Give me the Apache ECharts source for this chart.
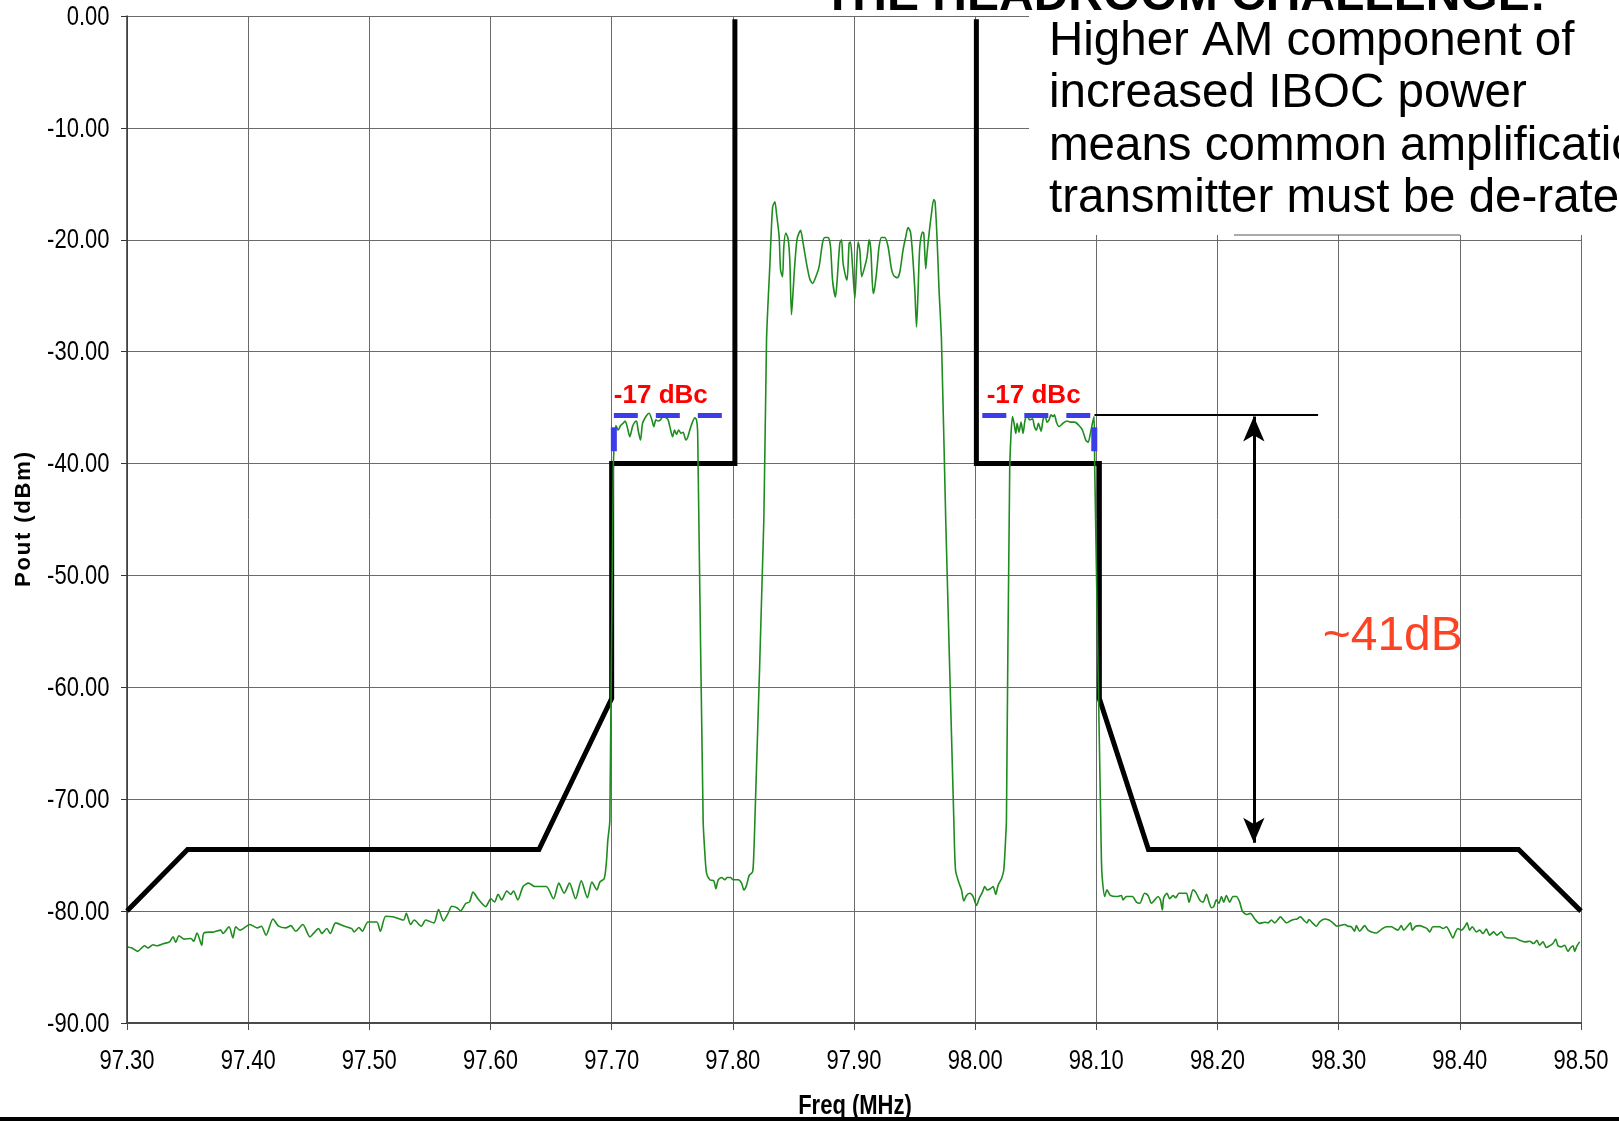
<!DOCTYPE html>
<html>
<head>
<meta charset="utf-8">
<title>FM + IBOC spectrum vs. mask</title>
<script src="https://cdn.jsdelivr.net/npm/echarts@6/dist/echarts.min.js"></script>
<style>
  html, body { margin: 0; padding: 0; background: #fff; }
  #chart { width: 1619px; height: 1121px; }
</style>
</head>
<body>
<div id="chart"></div>
<script>
// ---- axes ----
const X_MIN = 97.3, X_MAX = 98.5, X_STEP = 0.1;
const Y_MIN = -90, Y_MAX = 0, Y_STEP = 10;
const xTickLabels = ['97.30','97.40','97.50','97.60','97.70','97.80','97.90','98.00','98.10','98.20','98.30','98.40','98.50'];
const yTickLabels = ['-90.00','-80.00','-70.00','-60.00','-50.00','-40.00','-30.00','-20.00','-10.00','0.00'];
const xAxisTitle = 'Freq (MHz)';
const yAxisTitle = 'Pout (dBm)';

// ---- emission mask (MHz, dBm) ----
const maskLow = [[97.30,-80],[97.35,-74.5],[97.64,-74.5],[97.70,-61],[97.70,-40],[97.8017,-40],[97.8017,-0.3]];
const maskHigh = [[98.001,-0.3],[98.001,-40],[98.1025,-40],[98.1025,-61],[98.143,-74.5],[98.4485,-74.5],[98.50,-80]];

// ---- measured spectrum (MHz, dBm) ----
const floorLow = [
  [97.3007,-83.2],[97.3041,-83.3],[97.3087,-83.6],[97.3145,-83.1],[97.3173,-83.3],[97.3214,-83.0],[97.3248,-83.1],
  [97.3305,-82.9],[97.3351,-82.75],[97.3380,-82.3],[97.3402,-82.8],[97.3429,-82.2],[97.3470,-82.5],[97.3528,-82.45],
  [97.3550,-82.7],[97.3578,-81.95],[97.3617,-83.05],[97.3635,-81.95],[97.3718,-81.86],[97.3773,-81.7],[97.3792,-82.0],
  [97.3842,-81.4],[97.3874,-82.4],[97.3897,-81.4],[97.3932,-81.7],[97.4015,-81.2],[97.4073,-81.5],[97.4109,-81.35],
  [97.4147,-82.15],[97.4205,-80.7],[97.4251,-81.35],[97.4309,-81.5],[97.4353,-81.3],[97.4392,-81.8],[97.4451,-81.2],
  [97.4510,-82.3],[97.4543,-81.95],[97.4581,-81.56],[97.4609,-82.0],[97.4649,-81.56],[97.4678,-82.0],[97.4722,-81.05],
  [97.4795,-81.35],[97.4855,-81.56],[97.4875,-81.86],[97.4914,-81.46],[97.4943,-81.8],[97.4988,-80.97],[97.5061,-80.97],
  [97.5091,-81.8],[97.5135,-80.46],[97.5194,-80.5],[97.5282,-80.8],[97.5305,-80.2],[97.5341,-81.2],[97.5370,-80.8],
  [97.5429,-81.35],[97.5465,-80.8],[97.5533,-81.05],[97.5571,-79.85],[97.5612,-80.87],[97.5650,-80.2],[97.5680,-79.56],
  [97.5723,-79.7],[97.5753,-79.97],[97.5797,-79.3],[97.5827,-79.18],[97.5856,-78.3],[97.5901,-78.97],[97.5960,-79.6],
  [97.6003,-78.9],[97.6033,-79.18],[97.6063,-78.5],[97.6092,-79.0],[97.6135,-78.2],[97.6166,-78.5],[97.6190,-78.2],
  [97.6225,-79.0],[97.6269,-77.8],[97.6314,-77.5],[97.6366,-77.8],[97.6460,-77.8],[97.6520,-78.9],[97.6564,-77.5],
  [97.6608,-78.4],[97.6652,-77.5],[97.6702,-78.9],[97.6749,-77.3],[97.6800,-78.8],[97.6837,-77.4],[97.6878,-78.1],
  [97.6903,-77.4],[97.6938,-77.1],[97.6956,-75.7],[97.6968,-73.7],[97.6985,-71.9]
];
const sidebandLow = [
  [97.7013,-40.6],[97.7035,-36.6],[97.7054,-37.0],[97.7074,-36.6],[97.7095,-36.4],[97.7111,-36.2],[97.7128,-36.7],
  [97.7150,-37.6],[97.7172,-36.7],[97.7191,-36.3],[97.7205,-36.2],[97.7218,-37.0],[97.7238,-37.9],[97.7255,-36.4],
  [97.7288,-35.7],[97.7309,-35.5],[97.7332,-36.1],[97.7348,-36.7],[97.7365,-36.1],[97.7384,-36.2],[97.7403,-36.1],
  [97.7425,-35.8],[97.7447,-35.9],[97.7466,-36.1],[97.7480,-36.7],[97.7503,-37.6],[97.7519,-37.0],[97.7535,-37.4],
  [97.7552,-37.0],[97.7573,-37.3],[97.7590,-37.2],[97.7612,-37.9],[97.7629,-37.6],[97.7645,-37.0],[97.7667,-36.3],
  [97.7686,-35.9],[97.7700,-36.1],[97.7709,-37.0],[97.7714,-40.6]
];
const notchLow = [
  [97.7755,-71.9],[97.7769,-74.8],[97.7783,-76.6],[97.7810,-77.2],[97.7843,-77.3],[97.7860,-78.0],[97.7879,-77.2],
  [97.7907,-77.0],[97.7934,-77.2],[97.7953,-77.0],[97.7981,-77.0],[97.8003,-77.2],[97.8044,-77.2],[97.8072,-77.5],
  [97.8091,-78.1],[97.8113,-77.7],[97.8135,-76.8],[97.8163,-76.5],[97.8173,-74.9],[97.8182,-71.9]
];
const carrier = [
  [97.8256,-45.0],[97.8278,-29.0],[97.8305,-22.4],[97.8328,-17.1],[97.8347,-16.6],[97.8361,-17.7],[97.8382,-19.7],
  [97.8394,-22.7],[97.8410,-23.3],[97.8421,-20.6],[97.8437,-19.4],[97.8456,-19.9],[97.8470,-21.8],[97.8484,-26.7],
  [97.8498,-24.5],[97.8512,-22.1],[97.8531,-19.9],[97.8559,-19.15],[97.8580,-20.3],[97.8608,-22.1],[97.8635,-23.5],
  [97.8658,-23.9],[97.8685,-23.3],[97.8712,-22.4],[97.8740,-20.3],[97.8759,-19.8],[97.8786,-19.8],[97.8806,-20.6],
  [97.8823,-23.6],[97.8847,-25.1],[97.8861,-23.6],[97.8883,-20.3],[97.8897,-20.0],[97.8910,-22.1],[97.8932,-23.3],
  [97.8943,-23.6],[97.8960,-20.3],[97.8971,-20.2],[97.8988,-22.4],[97.9007,-25.25],[97.9021,-22.4],[97.9034,-20.2],
  [97.9048,-20.9],[97.9064,-23.3],[97.9089,-22.4],[97.9108,-21.5],[97.9125,-20.0],[97.9139,-20.9],[97.9158,-24.8],
  [97.9172,-24.2],[97.9191,-22.4],[97.9207,-20.6],[97.9227,-19.8],[97.9254,-19.8],[97.9281,-20.6],[97.9309,-22.6],
  [97.9328,-23.2],[97.9356,-23.4],[97.9378,-22.9],[97.9405,-20.9],[97.9427,-19.75],[97.9446,-18.9],[97.9466,-19.3],
  [97.9483,-21.2],[97.9502,-24.5],[97.9516,-27.8],[97.9529,-24.5],[97.9543,-20.6],[97.9565,-19.3],[97.9576,-19.4],
  [97.9592,-22.6],[97.9603,-21.2],[97.9620,-19.4],[97.9639,-17.7],[97.9658,-16.4],[97.9669,-16.6],[97.9686,-20.0],
  [97.9702,-24.5],[97.9722,-29.0],[97.9757,-45.0]
];
const notchHigh = [
  [97.9824,-71.9],[97.9838,-76.35],[97.9867,-77.5],[97.9887,-78.1],[97.9906,-79.1],[97.9928,-78.6],[97.9955,-78.4],
  [97.9983,-78.7],[98.0011,-79.5],[98.0032,-78.9],[98.0060,-78.3],[98.0079,-77.8],[98.0098,-78.1],[98.0126,-78.0],
  [98.0148,-77.8],[98.0170,-78.5],[98.0189,-77.7],[98.0217,-77.1],[98.0236,-76.35],[98.0252,-73.4],[98.0258,-71.9]
];
const sidebandHigh = [
  [98.0285,-40.6],[98.0308,-35.8],[98.0321,-36.4],[98.0335,-37.3],[98.0346,-36.4],[98.0362,-37.2],[98.0379,-36.3],
  [98.0395,-37.3],[98.0412,-36.1],[98.0428,-35.7],[98.0450,-36.1],[98.0473,-36.0],[98.0489,-36.7],[98.0506,-37.0],
  [98.0522,-36.4],[98.0544,-37.1],[98.0560,-36.1],[98.0577,-35.7],[98.0593,-36.3],[98.0610,-36.1],[98.0626,-35.65],
  [98.0643,-35.8],[98.0654,-35.65],[98.0671,-36.3],[98.0692,-36.7],[98.0725,-36.4],[98.0758,-36.2],[98.0786,-36.3],
  [98.0822,-36.3],[98.0857,-36.6],[98.0885,-37.0],[98.0913,-37.9],[98.0932,-38.1],[98.0951,-37.3],[98.0968,-36.4],
  [98.0981,-35.8],[98.0987,-40.6]
];
const floorHigh = [
  [98.1042,-75.4],[98.1050,-77.2],[98.1069,-78.7],[98.1088,-78.1],[98.1116,-78.6],[98.1166,-78.7],[98.1207,-78.6],
  [98.1220,-79.0],[98.1248,-78.7],[98.1298,-78.7],[98.1331,-79.2],[98.1358,-79.3],[98.1399,-78.4],[98.1427,-78.6],
  [98.1455,-79.3],[98.1482,-79.0],[98.1509,-78.7],[98.1529,-79.0],[98.1545,-79.9],[98.1556,-78.8],[98.1583,-78.4],
  [98.1606,-78.9],[98.1633,-78.6],[98.1655,-78.8],[98.1682,-78.4],[98.1711,-78.4],[98.1744,-78.4],[98.1765,-79.2],
  [98.1798,-78.1],[98.1820,-78.3],[98.1853,-79.0],[98.1880,-79.2],[98.1909,-78.5],[98.1930,-79.2],[98.1950,-79.7],
  [98.1969,-79.6],[98.1991,-79.0],[98.2012,-79.3],[98.2032,-78.7],[98.2051,-79.2],[98.2073,-78.6],[98.2101,-79.2],
  [98.2128,-78.7],[98.2156,-78.7],[98.2183,-79.2],[98.2205,-80.0],[98.2238,-80.3],[98.2271,-80.2],[98.2307,-80.7],
  [98.2348,-81.1],[98.2389,-81.0],[98.2417,-81.05],[98.2445,-80.8],[98.2472,-81.05],[98.2499,-80.75],[98.2519,-80.5],
  [98.2541,-80.75],[98.2569,-81.05],[98.2596,-80.9],[98.2629,-80.75],[98.2656,-80.7],[98.2684,-80.5],[98.2711,-80.8],
  [98.2738,-81.05],[98.2755,-80.75],[98.2788,-81.1],[98.2816,-81.35],[98.2843,-80.97],[98.2884,-80.7],[98.2920,-80.8],
  [98.2953,-81.05],[98.2986,-81.35],[98.3008,-81.3],[98.3050,-81.2],[98.3077,-81.35],[98.3105,-81.4],[98.3132,-81.8],
  [98.3146,-81.3],[98.3173,-81.8],[98.3215,-81.3],[98.3242,-81.7],[98.3270,-81.86],[98.3311,-81.95],[98.3361,-81.56],
  [98.3394,-81.4],[98.3435,-81.4],[98.3462,-81.56],[98.3489,-81.7],[98.3517,-81.3],[98.3536,-81.7],[98.3564,-81.4],
  [98.3592,-81.05],[98.3608,-81.7],[98.3635,-81.35],[98.3668,-81.3],[98.3696,-81.4],[98.3729,-81.56],[98.3751,-81.86],
  [98.3778,-81.4],[98.3811,-81.4],[98.3833,-81.4],[98.3861,-81.56],[98.3889,-81.4],[98.3916,-81.86],[98.3943,-82.4],
  [98.3965,-81.86],[98.3984,-81.56],[98.4012,-81.7],[98.4040,-81.4],[98.4059,-81.05],[98.4081,-81.7],[98.4103,-81.4],
  [98.4136,-81.86],[98.4163,-81.7],[98.4191,-82.0],[98.4219,-81.6],[98.4246,-82.15],[98.4279,-81.86],[98.4306,-82.15],
  [98.4342,-81.86],[98.4370,-82.3],[98.4411,-82.4],[98.4452,-82.4],[98.4493,-82.6],[98.4535,-82.75],[98.4576,-82.7],
  [98.4609,-82.9],[98.4636,-82.6],[98.4658,-83.05],[98.4686,-82.75],[98.4714,-83.25],[98.4741,-83.1],[98.4768,-82.9],
  [98.4791,-82.5],[98.4810,-83.1],[98.4838,-83.2],[98.4865,-83.05],[98.4892,-83.6],[98.4912,-83.3],[98.4934,-83.1],
  [98.4947,-83.6],[98.4967,-83.1],[98.4989,-82.75]
];
const spectrum = [].concat(floorLow, sidebandLow, notchLow, carrier, notchHigh, sidebandHigh, floorHigh);

// ---- -17 dBc sideband markers (MHz, dBm) ----
const dbcEdgeLow = [[97.7909,-35.7],[97.7018,-35.7]];
const dbcEdgeHigh = [[98.0059,-35.7],[98.0950,-35.7]];
const dbcTickLow = [[97.7018,-36.76],[97.7018,-38.9]];
const dbcTickHigh = [[98.0983,-36.76],[98.0983,-38.9]];
const dbcLabelAt = [[97.7018,-35.1],[98.0095,-35.1]];
const dbcLabelText = '-17 dBc';

// ---- headroom span ----
const headroomRef = [[98.0985,-35.65],[98.283,-35.65]];
const headroomArrow = [[98.23,-35.8],[98.23,-73.9]];
const headroomLabelAt = [98.2868,-55.45];
const headroomLabelText = '~41dB';

// ---- side note ----
const noteTitle = 'THE HEADROOM CHALLENGE:';
const noteLines = ['Higher AM component of', 'increased IBOC power', 'means common amplification', 'transmitter must be de-rated'];

const FONT = '"Liberation Sans", Arial, Helvetica, sans-serif';
const TALL = 1.27;   // axis text is set tall and condensed

const chart = echarts.init(document.getElementById('chart'), null, { renderer: 'canvas' });

const thickBlack = { color: '#000', width: 5, join: 'miter', cap: 'butt' };

chart.setOption({
  animation: false,
  backgroundColor: '#fff',
  textStyle: { fontFamily: FONT },
  grid: { left: 127, right: 38, top: 16, bottom: 98, containLabel: false, outerBoundsMode: 'none' },
  xAxis: {
    type: 'value', min: X_MIN, max: X_MAX, interval: X_STEP,
    axisLine: { show: true, onZero: false, lineStyle: { color: '#4a4a4a', width: 2 } },
    axisTick: { show: true, length: 7, lineStyle: { color: '#4a4a4a' } },
    axisLabel: { show: false },
    splitLine: { show: true, lineStyle: { color: '#6a6a6a', width: 1 } }
  },
  yAxis: {
    type: 'value', min: Y_MIN, max: Y_MAX, interval: Y_STEP,
    axisLine: { show: true, onZero: false, lineStyle: { color: '#333', width: 1.5 } },
    axisTick: { show: true, length: 6, lineStyle: { color: '#333' } },
    axisLabel: { show: false },
    splitLine: { show: true, lineStyle: { color: '#6a6a6a', width: 1 } },
    name: yAxisTitle.split('').join('\u200A'), nameLocation: 'middle', nameGap: 92,
    nameTextStyle: { fontSize: 22, fontWeight: 'bold', color: '#000', fontFamily: FONT }
  },
  series: [
    { name: 'mask-low', type: 'line', data: maskLow, showSymbol: false, lineStyle: thickBlack, z: 3 },
    { name: 'mask-high', type: 'line', data: maskHigh, showSymbol: false, lineStyle: thickBlack, z: 3 },
    { name: 'spectrum', type: 'line', data: spectrum, showSymbol: false, smooth: 0.25,
      lineStyle: { color: '#1e8c1e', width: 1.6 }, z: 4 },
    { name: 'dbc-edge-low', type: 'line', data: dbcEdgeLow, showSymbol: false,
      lineStyle: { color: '#3c3ce8', width: 5, type: [24, 18], cap: 'butt' }, z: 5 },
    { name: 'dbc-edge-high', type: 'line', data: dbcEdgeHigh, showSymbol: false,
      lineStyle: { color: '#3c3ce8', width: 5, type: [24, 18], cap: 'butt' }, z: 5 },
    { name: 'dbc-tick-low', type: 'line', data: dbcTickLow, showSymbol: false,
      lineStyle: { color: '#3c3ce8', width: 6, cap: 'butt' }, z: 5 },
    { name: 'dbc-tick-high', type: 'line', data: dbcTickHigh, showSymbol: false,
      lineStyle: { color: '#3c3ce8', width: 6, cap: 'butt' }, z: 5 },
    { name: 'headroom', type: 'line', data: headroomRef, showSymbol: false,
      lineStyle: { color: '#000', width: 2 }, z: 5,
      markLine: {
        silent: true, animation: false, symbol: ['arrow', 'arrow'], symbolSize: [16, 25],
        label: { show: false },
        lineStyle: { color: '#000', width: 3, type: 'solid' },
        data: [[{ coord: headroomArrow[0] }, { coord: headroomArrow[1] }]]
      }
    }
  ]
});

// text placed through the grid's own scales
const px = p => chart.convertToPixel({ gridIndex: 0 }, p);
const graphics = [];

// tick labels (tall, condensed look)
xTickLabels.forEach((t, i) => {
  const q = px([X_MIN + i * X_STEP, Y_MIN]);
  graphics.push({ type: 'text', x: q[0], y: q[1] + 38.5, scaleY: TALL, z: 60,
    style: { text: t, fill: '#000', font: '22px ' + FONT, textAlign: 'center', textVerticalAlign: 'middle' } });
});
yTickLabels.forEach((t, i) => {
  const q = px([X_MIN, Y_MIN + i * Y_STEP]);
  graphics.push({ type: 'text', x: q[0] - 17.5, y: q[1] + 1, scaleY: TALL, z: 60,
    style: { text: t, fill: '#000', font: '22px ' + FONT, textAlign: 'right', textVerticalAlign: 'middle' } });
});
{
  const a = px([X_MIN, Y_MIN]), b = px([X_MAX, Y_MIN]);
  graphics.push({ type: 'text', x: (a[0] + b[0]) / 2 + 1, y: a[1] + 83, scaleY: TALL, z: 60,
    style: { text: xAxisTitle, fill: '#000', font: 'bold 22px ' + FONT, textAlign: 'center', textVerticalAlign: 'middle' } });
}

dbcLabelAt.forEach(p => {
  const q = px(p);
  graphics.push({ type: 'text', x: q[0], y: q[1], z: 60,
    style: { text: dbcLabelText, fill: '#ff0000', font: 'bold 26px ' + FONT, textAlign: 'left', textVerticalAlign: 'bottom' } });
});
{
  const q = px(headroomLabelAt);
  graphics.push({ type: 'text', x: q[0], y: q[1], z: 60,
    style: { text: headroomLabelText, fill: '#fc4424', font: '48px ' + FONT, textAlign: 'left', textVerticalAlign: 'middle' } });
}

// white note panel in the upper right
graphics.push({ type: 'rect', z: 50, shape: { x: 1029, y: 0, width: 600, height: 235 }, style: { fill: '#fff' } });
graphics.push({ type: 'line', z: 51, shape: { x1: 1234, y1: 235, x2: 1460, y2: 235 }, style: { stroke: '#555', lineWidth: 1 } });
graphics.push({ type: 'text', z: 60, x: 823, y: -3,
  style: { text: noteTitle, fill: '#000', font: 'bold 48px ' + FONT, textAlign: 'left', textVerticalAlign: 'middle' } });
noteLines.forEach((t, i) => {
  graphics.push({ type: 'text', z: 60, x: 1049, y: 42 + i * 52.3,
    style: { text: t, fill: '#000', font: '47.5px ' + FONT, textAlign: 'left', textVerticalAlign: 'middle' } });
});

// bottom rule
graphics.push({ type: 'rect', z: 40, shape: { x: 0, y: 1117, width: 1619, height: 4 }, style: { fill: '#000' } });

chart.setOption({ graphic: graphics });
</script>
</body>
</html>
